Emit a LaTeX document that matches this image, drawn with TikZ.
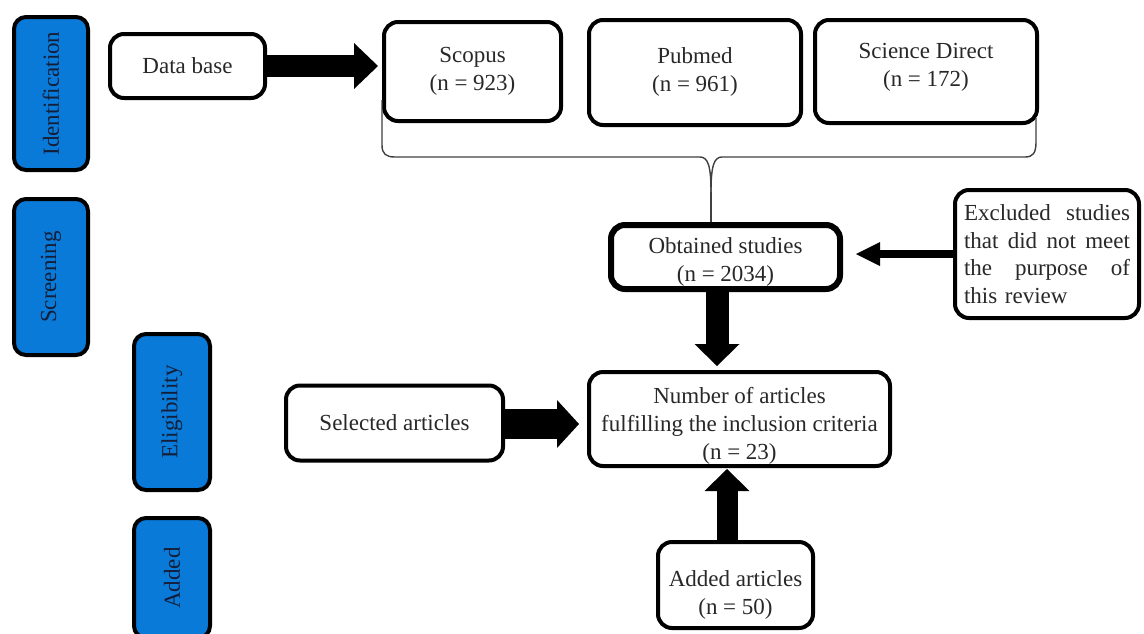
\documentclass[tikz,border=0pt]{standalone}
\usepackage{fontspec}
\setmainfont{Liberation Serif}
\usepackage{graphicx}
\usetikzlibrary{arrows.meta,calc}
\definecolor{stageblue}{RGB}{10,122,216}
\definecolor{stagetext}{RGB}{20,30,55}
\definecolor{txt}{RGB}{40,40,40}
\begin{document}
\begin{tikzpicture}[x=1pt,y=-1pt,
  box/.style={draw=black, line width=4pt, rounded corners=14pt, fill=white, inner sep=0pt,
    align=center, text=txt, font=\fontsize{23}{28}\selectfont},
  stage/.style={draw=black, line width=4pt, rounded corners=12pt, fill=stageblue, inner sep=0pt,
    text=stagetext, font=\fontsize{23}{28}\selectfont},
  bracestyle/.style={draw=black!75, line width=1.4pt},
]
\path[use as bounding box, fill=white] (0,0) rectangle (1144,633);
\clip (0,0) rectangle (1144,633);

% stage labels
\node[stage, minimum width=74pt, minimum height=153pt] (ident) at (51,93.5) {\rotatebox{90}{Identification}};
\node[stage, minimum width=74pt, minimum height=156pt] (screen) at (51,277) {\rotatebox{90}{Screening}};
\node[stage, minimum width=76pt, minimum height=156pt] (elig) at (172,412) {\rotatebox{90}{Eligibility}};
\node[stage, minimum width=76pt, minimum height=120pt] (addst) at (172,578) {\rotatebox{90}{Added}};

% boxes
\node[box, minimum width=155pt, minimum height=64pt] (db) at (187.5,66) {Data base};
\node[box, minimum width=177pt, minimum height=99pt] (scopus) at (472.5,71.5) {Scopus\\(n = 923)};
\node[box, minimum width=212pt, minimum height=105pt] (pubmed) at (695,72.5) {Pubmed\\(n = 961)\\[-22pt]};
\node[box, minimum width=222pt, minimum height=103pt] (sd) at (926,71.5) {Science Direct\\(n = 172)\\[-14pt]};
\node[box, line width=6pt, minimum width=229pt, minimum height=64pt] (obt) at (725.5,257)
  {\rule{0pt}{26pt}Obtained studies\\(n = 2034)};
\node[box, minimum width=184pt, minimum height=128pt, text width=166pt, align=left,
  font=\fontsize{23}{27.5}\selectfont] (excl) at (1047,254)
  {Excluded\hfill studies\\that\hfill did\hfill not\hfill meet\\the\hfill purpose\hfill of\\this review};
\node[box, minimum width=301pt, minimum height=94pt] (num) at (739.5,419)
  {\rule{0pt}{29pt}Number of articles\\fulfilling the inclusion criteria\\(n = 23)};
\node[box, minimum width=217pt, minimum height=75pt] (sel) at (394.5,423) {Selected articles};
\node[box, minimum width=155pt, minimum height=86pt] (addart) at (735.5,585)
  {\rule{0pt}{36pt}Added articles\\(n = 50)};

% brace
\coordinate (bl) at (382,100);
\coordinate (brtip) at (711,192);
\coordinate (br) at (1036,118);
\draw[bracestyle] (bl) -- (382,145) .. controls (382,154) and (386,157) .. (395,157)
  -- (700,157) .. controls (708,157) and (711,166) .. (brtip);
\draw[bracestyle] (brtip) .. controls (711,166) and (714,157) .. (722,157)
  -- (1025,157) .. controls (1033,157) and (1036,153) .. (1036,142) -- (br);
\draw[bracestyle] (brtip) -- (brtip |- obt.north);

% fat arrows
\coordinate (dx) at (717,0);
\coordinate (ux) at (727,0);
\coordinate (ey) at (0,254);
\coordinate (sy) at (0,424);
\draw[line width=22pt, -{Triangle[length=24pt,width=46pt,line width=0pt]}, shorten >=4pt]
  (db.east) -- (db.east -| scopus.west);
\draw[line width=23pt, -{Triangle[length=22pt,width=45pt,line width=0pt]}, shorten >=4pt]
  (obt.south -| dx) -- (num.north -| dx);
\draw[line width=8pt, -{Triangle[length=24pt,width=24pt,line width=0pt]}, shorten >=13pt]
  (excl.west |- ey) -- (obt.east |- ey);
\draw[line width=30pt, -{Triangle[length=22pt,width=48pt,line width=0pt]}, shorten >=8pt]
  (sel.east |- sy) -- (num.west |- sy);
\draw[line width=21pt, -{Triangle[length=22pt,width=45pt,line width=0pt]}, shorten >=1pt]
  (addart.north -| ux) -- (num.south -| ux);
\end{tikzpicture}
\end{document}
